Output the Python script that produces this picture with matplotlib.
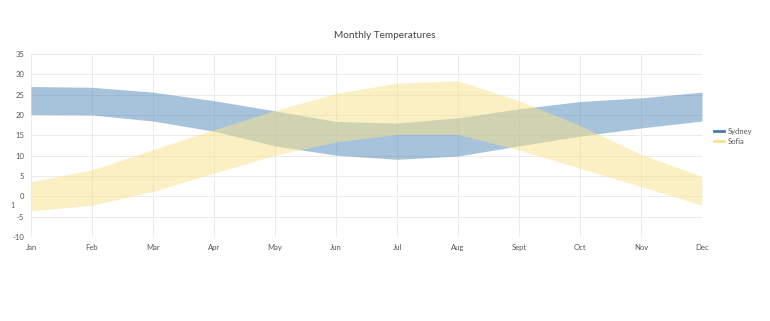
import matplotlib
matplotlib.use("Agg")
import matplotlib.pyplot as plt
import numpy as np

months = ["Jan", "Feb", "Mar", "Apr", "May", "Jun", "Jul", "Aug", "Sept", "Oct", "Nov", "Dec"]
sydney_high = [27.0, 26.8, 25.6, 23.5, 21.0, 18.4, 18.0, 19.3, 21.5, 23.3, 24.2, 25.6]
sydney_low  = [20.1, 20.0, 18.5, 16.0, 12.4, 10.1, 9.1, 9.9, 12.4, 14.8, 16.8, 18.5]
sofia_high  = [3.6, 6.5, 11.5, 16.4, 21.1, 25.3, 27.8, 28.4, 23.5, 17.4, 10.3, 4.9]
sofia_low   = [-3.6, -2.2, 1.2, 5.7, 10.1, 13.4, 15.2, 15.2, 11.4, 6.9, 2.4, -2.2]

SYD = "#5189b9"
SOF = "#f7e389"
TXT = "#555555"

plt.rcParams["font.family"] = ["Lato", "DejaVu Sans"]
plt.rcParams["axes.unicode_minus"] = False

fig = plt.figure(figsize=(7.7, 3.21), dpi=100)
ax = fig.add_axes([0.0403, 0.2617, 0.8714, 0.5703])

x = np.arange(len(months))
ax.fill_between(x, sydney_low, sydney_high, color=SYD, alpha=0.5, lw=0)
ax.fill_between(x, sofia_low, sofia_high, color=SOF, alpha=0.5, lw=0)

ax.set_xlim(0, len(months) - 1)
ax.set_ylim(-10, 35)
ax.set_xticks(x)
ax.set_xticklabels(months)
ax.set_yticks(range(-10, 36, 5))
ax.grid(True, color="#ebebeb", lw=0.7)
ax.set_axisbelow(True)
for s in ax.spines.values():
    s.set_visible(False)
ax.tick_params(length=0, labelsize=5.5, colors=TXT, pad=5)

fig.text(0.5, 1 - 36 / 321, "Monthly Temperatures", fontsize=7.2, color="#444444",
         ha="center", va="center")
fig.text(12 / 770, 1 - 206 / 321, "1", fontsize=5, color=TXT, ha="center", va="center")

h1, = ax.plot([], [], color="#4a78a8", lw=2, label="Sydney")
h2, = ax.plot([], [], color=SOF, lw=2, label="Sofia")
fig.legend(handles=[h1, h2], loc="center left", bbox_to_anchor=(0.918, 0.575),
           frameon=False, fontsize=5.5, handlelength=1.3, handletextpad=0.5,
           labelspacing=0.35, labelcolor=TXT)

fig.savefig("out.png", dpi=100)
